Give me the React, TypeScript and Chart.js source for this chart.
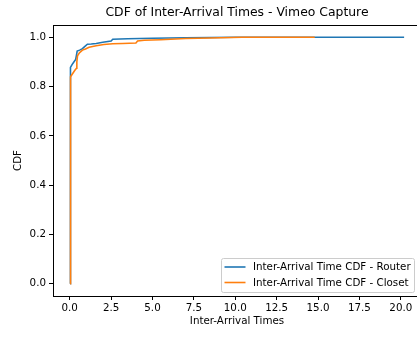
import React, { useEffect, useRef } from "react";
import { Chart, registerables } from "chart.js";

Chart.register(...registerables);

const titleText = "CDF of Inter-Arrival Times - Vimeo Capture";
const xTitle = "Inter-Arrival Times";
const yTitle = "CDF";
const seriesLabels = ["Inter-Arrival Time CDF - Router", "Inter-Arrival Time CDF - Closet"];
const seriesColors = ["#1f77b4", "#ff7f0e"];

const routerX = [0.03, 0.04, 0.05, 0.15, 0.25, 0.36, 0.4, 0.45, 0.6, 0.77, 0.9, 1.07, 1.3, 1.6, 2.0, 2.5, 2.6, 3.5, 5.0, 7.0, 10.0, 15.0, 20.2];
const routerY = [0, 0.85, 0.878, 0.89, 0.9, 0.91, 0.925, 0.944, 0.948, 0.954, 0.962, 0.972, 0.973, 0.975, 0.98, 0.985, 0.992, 0.994, 0.996, 0.998, 1.0, 1.0, 1.0];

const closetX = [0.03, 0.04, 0.06, 0.15, 0.3, 0.42, 0.43, 0.47, 0.6, 0.77, 0.95, 1.17, 1.6, 2.06, 2.6, 3.2, 4.0, 4.1, 4.5, 5.5, 7.0, 8.5, 10.4, 12.0, 14.8];
const closetY = [0, 0.6, 0.84, 0.85, 0.865, 0.875, 0.9, 0.925, 0.938, 0.948, 0.953, 0.96, 0.966, 0.971, 0.974, 0.975, 0.977, 0.985, 0.988, 0.99, 0.995, 0.997, 1.0, 1.0, 1.0];

const xTicks = [0, 2.5, 5, 7.5, 10, 12.5, 15, 17.5, 20];
const yTicks = [0, 0.2, 0.4, 0.6, 0.8, 1.0];

const FONT = "'DejaVu Sans', sans-serif";
const FS = 10.3;

const toPoints = (xs: number[], ys: number[]) => xs.map((x, i) => ({ x, y: ys[i] }));

const titlePlugin = {
  id: "mplTitle",
  afterDraw(chart: any) {
    const { ctx, chartArea } = chart;
    ctx.save();
    ctx.font = `12.4px ${FONT}`;
    ctx.fillStyle = "#000";
    ctx.textAlign = "center";
    ctx.textBaseline = "middle";
    ctx.fillText(titleText, (chartArea.left + chartArea.right) / 2, 13);
    ctx.restore();
  },
};

const framePlugin = {
  id: "frame",
  afterDraw(chart: any) {
    const { ctx, chartArea } = chart;
    ctx.save();
    ctx.strokeStyle = "#000";
    ctx.lineWidth = 1;
    ctx.beginPath();
    ctx.moveTo(chartArea.left, chartArea.top + 0.5);
    ctx.lineTo(chartArea.right, chartArea.top + 0.5);
    ctx.moveTo(chartArea.right - 0.5, chartArea.top);
    ctx.lineTo(chartArea.right - 0.5, chartArea.bottom);
    ctx.stroke();
    ctx.restore();
  },
};

const legendPlugin = {
  id: "mplLegend",
  afterDraw(chart: any) {
    const { ctx } = chart;
    const x0 = 221.5;
    const y0 = 258.5;
    const w = 193;
    const h = 34;
    ctx.save();
    ctx.fillStyle = "rgba(255,255,255,0.8)";
    ctx.strokeStyle = "#cccccc";
    ctx.lineWidth = 1;
    ctx.beginPath();
    if (ctx.roundRect) ctx.roundRect(x0, y0, w, h, 2);
    else ctx.rect(x0, y0, w, h);
    ctx.fill();
    ctx.stroke();
    ctx.font = `${FS}px ${FONT}`;
    ctx.textAlign = "left";
    ctx.textBaseline = "middle";
    seriesLabels.forEach((label, i) => {
      const cy = y0 + 8.5 + i * 15.5;
      ctx.strokeStyle = seriesColors[i];
      ctx.lineWidth = 1.6;
      ctx.beginPath();
      ctx.moveTo(x0 + 3, cy);
      ctx.lineTo(x0 + 24, cy);
      ctx.stroke();
      ctx.fillStyle = "#000";
      ctx.fillText(label, x0 + 31.5, cy + 0.5);
    });
    ctx.restore();
  },
};

export default function App() {
  const ref = useRef<HTMLCanvasElement | null>(null);

  useEffect(() => {
    if (!ref.current) return;
    const chart = new Chart(ref.current, {
      type: "line",
      data: {
        datasets: [
          {
            label: seriesLabels[0],
            data: toPoints(routerX, routerY),
            borderColor: seriesColors[0],
            backgroundColor: seriesColors[0],
            borderWidth: 1.6,
            pointRadius: 0,
            tension: 0,
            order: 2,
          },
          {
            label: seriesLabels[1],
            data: toPoints(closetX, closetY),
            borderColor: seriesColors[1],
            backgroundColor: seriesColors[1],
            borderWidth: 1.6,
            pointRadius: 0,
            tension: 0,
            order: 1,
          },
        ],
      },
      options: {
        responsive: false,
        animation: false,
        parsing: false,
        layout: { padding: { top: 25, right: 0, left: 0, bottom: 0 } },
        plugins: {
          legend: { display: false },
          title: { display: false },
          tooltip: { enabled: false },
        },
        scales: {
          x: {
            type: "linear",
            min: -1.01,
            max: 21.22,
            afterBuildTicks: (s: any) => {
              s.ticks = xTicks.map((v) => ({ value: v }));
            },
            afterFit: (s: any) => {
              s.height = 43;
            },
            grid: { drawOnChartArea: false, drawTicks: true, tickLength: 4, tickColor: "#000" },
            border: { color: "#000", width: 1 },
            ticks: {
              autoSkip: false,
              maxRotation: 0,
              padding: 2,
              color: "#000",
              font: { family: FONT, size: FS },
              callback: (v: any) => Number(v).toFixed(1),
            },
            title: {
              display: true,
              text: xTitle,
              color: "#000",
              font: { family: FONT, size: FS },
              padding: { top: 0, bottom: 11 },
            },
          },
          y: {
            type: "linear",
            min: -0.05,
            max: 1.05,
            afterBuildTicks: (s: any) => {
              s.ticks = yTicks.map((v) => ({ value: v }));
            },
            afterFit: (s: any) => {
              s.width = 53;
            },
            grid: { drawOnChartArea: false, drawTicks: true, tickLength: 4, tickColor: "#000" },
            border: { color: "#000", width: 1 },
            ticks: {
              padding: 3,
              color: "#000",
              font: { family: FONT, size: FS },
              callback: (v: any) => Number(v).toFixed(1),
            },
            title: {
              display: true,
              text: yTitle,
              color: "#000",
              font: { family: FONT, size: FS },
              padding: { top: 12, bottom: 0 },
            },
          },
        },
      },
      plugins: [titlePlugin, framePlugin, legendPlugin],
    } as any);
    return () => chart.destroy();
  }, []);

  return (
    <div style={{ position: "fixed", left: 0, top: 0, width: 417, height: 339, overflow: "hidden", background: "#fff" }}>
      <canvas ref={ref} width={421} height={339} style={{ display: "block", width: 421, height: 339 }} />
    </div>
  );
}
